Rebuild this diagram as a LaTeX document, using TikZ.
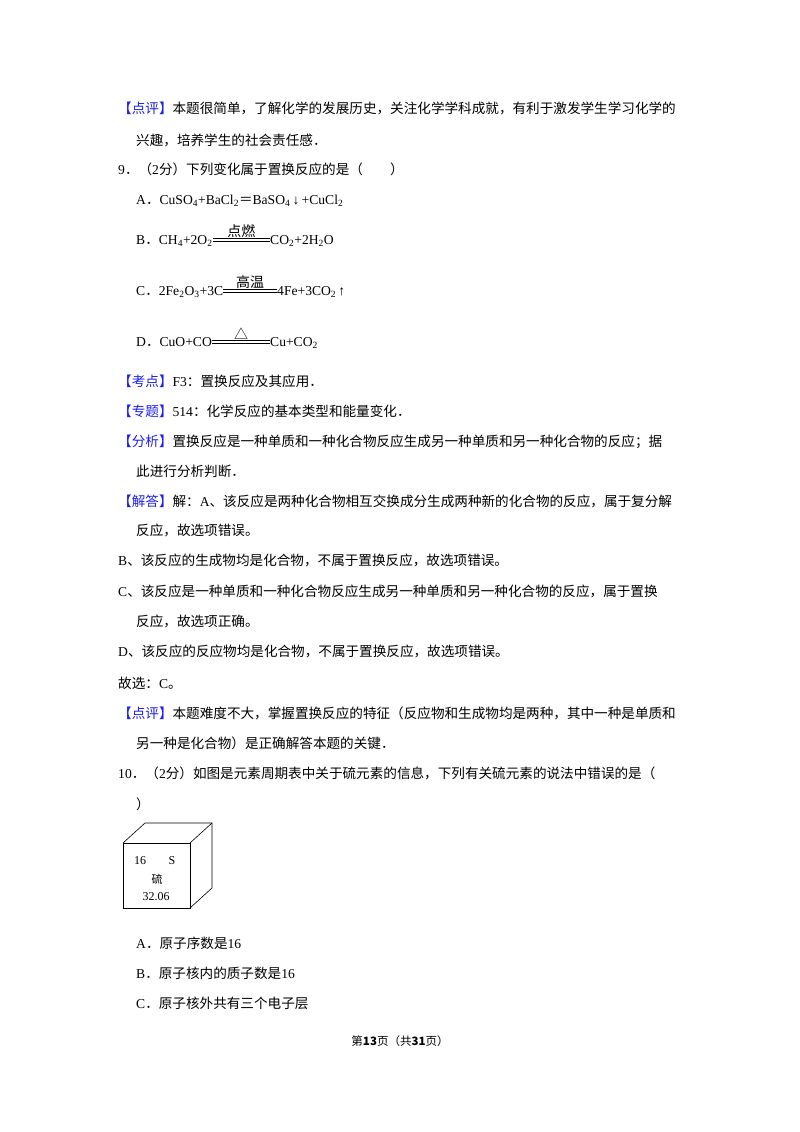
\documentclass[tikz,border=0pt]{standalone}
\usepackage{fontspec}
\setmainfont{Noto Sans CJK SC}
\newfontfamily\lat{Liberation Serif}
\definecolor{tagblue}{RGB}{30,30,230}
\newcommand{\tg}[1]{\textcolor{tagblue}{【#1】}}
\begin{document}
\begin{tikzpicture}[x=1pt,y=-1pt,
  ln/.style={anchor=base west,inner sep=0pt,font=\fontsize{13.6}{14}\selectfont},
  cond/.style={anchor=base,inner sep=0pt,font=\fontsize{14}{14}\selectfont},
  eqline/.style={line width=0.6pt}]
\useasboundingbox[fill=white] (0,0) rectangle (800,1132);
\node[ln] (l1) at (118,113) {\tg{点评}本题很简单，了解化学的发展历史，关注化学学科成就，有利于激发学生学习化学的};
\node[ln] (l2) at (136,145) {兴趣，培养学生的社会责任感．};
\node[ln] (l3) at (118,174) {{\lat 9}．（{\lat 2}分）下列变化属于置换反应的是（　　）};
\node[ln] (qa) at (136,204) {{\lat A}．{\lat CuSO\textsubscript{4}+BaCl\textsubscript{2}}＝{\lat BaSO\textsubscript{4}\,↓\,+CuCl\textsubscript{2}}};
\node[ln] (qb1) at (136,244) {{\lat B}．{\lat CH\textsubscript{4}+2O\textsubscript{2}}};
\node[ln] (qb2) at (270,244) {\lat CO\textsubscript{2}+2H\textsubscript{2}O};
\draw[eqline] ([yshift=3]qb1.base east) -- ([yshift=3]qb2.base west);
\draw[eqline] ([yshift=5.5]qb1.base east) -- ([yshift=5.5]qb2.base west) node[cond,midway,above=1pt] {点燃};
\node[ln] (qc1) at (136,295) {{\lat C}．{\lat 2Fe\textsubscript{2}O\textsubscript{3}+3C}};
\node[ln] (qc2) at (277,295) {\lat 4Fe+3CO\textsubscript{2}\,↑};
\draw[eqline] ([yshift=3]qc1.base east) -- ([yshift=3]qc2.base west);
\draw[eqline] ([yshift=5.5]qc1.base east) -- ([yshift=5.5]qc2.base west) node[cond,midway,above=1pt] {高温};
\node[ln] (qd1) at (136,346) {{\lat D}．{\lat CuO+CO}};
\node[ln] (qd2) at (270,346) {\lat Cu+CO\textsubscript{2}};
\draw[eqline] ([yshift=3]qd1.base east) -- ([yshift=3]qd2.base west);
\draw[eqline] ([yshift=5.5]qd1.base east) -- ([yshift=5.5]qd2.base west) node[cond,midway,above=1pt] {△};
\node[ln] (k1) at (118,386) {\tg{考点}{\lat F3}：置换反应及其应用．};
\node[ln] (k2) at (118,416) {\tg{专题}{\lat 514}：化学反应的基本类型和能量变化．};
\node[ln] (k3) at (118,446) {\tg{分析}置换反应是一种单质和一种化合物反应生成另一种单质和另一种化合物的反应；据};
\node[ln] (k4) at (136,476) {此进行分析判断．};
\node[ln] (k5) at (118,506) {\tg{解答}解：{\lat A}、该反应是两种化合物相互交换成分生成两种新的化合物的反应，属于复分解};
\node[ln] (k6) at (136,535) {反应，故选项错误。};
\node[ln] (k7) at (118,565) {{\lat B}、该反应的生成物均是化合物，不属于置换反应，故选项错误。};
\node[ln] (k8) at (118,596) {{\lat C}、该反应是一种单质和一种化合物反应生成另一种单质和另一种化合物的反应，属于置换};
\node[ln] (k9) at (136,626) {反应，故选项正确。};
\node[ln] (k10) at (118,656) {{\lat D}、该反应的反应物均是化合物，不属于置换反应，故选项错误。};
\node[ln] (k11) at (118,688) {故选：{\lat C}。};
\node[ln] (k12) at (118,718) {\tg{点评}本题难度不大，掌握置换反应的特征（反应物和生成物均是两种，其中一种是单质和};
\node[ln] (k13) at (136,748) {另一种是化合物）是正确解答本题的关键．};
\node[ln] (q10) at (118,778) {{\lat 10}．（{\lat 2}分）如图是元素周期表中关于硫元素的信息，下列有关硫元素的说法中错误的是（};
\node[ln] (q10b) at (136,809) {）};
% cube
\draw[line width=0.7pt] (123,843) rectangle (190,908);
\draw[line width=0.6pt] (123,843) -- (145,823) -- (212,823) -- (212,888) -- (190,908);
\draw[line width=0.6pt] (190,843) -- (212,823);
\node[font=\lat\fontsize{12}{12}\selectfont] (cn) at (140,861) {16};
\node[font=\lat\fontsize{12}{12}\selectfont] (cs) at (172,861) {S};
\node[font=\fontsize{11}{11}\selectfont] (cz) at (157,879) {硫};
\node[font=\lat\fontsize{12}{12}\selectfont] (cm) at (156,897) {32.06};
\node[ln] (oa) at (136,948) {{\lat A}．原子序数是{\lat 16}};
\node[ln] (ob) at (136,978) {{\lat B}．原子核内的质子数是{\lat 16}};
\node[ln] (oc) at (136,1008) {{\lat C}．原子核外共有三个电子层};
\node[anchor=base,inner sep=0pt,font=\fontsize{11.5}{12}\selectfont] (ft) at (400,1045) {第\textbf{13}页（共\textbf{31}页）};
\end{tikzpicture}
\end{document}
